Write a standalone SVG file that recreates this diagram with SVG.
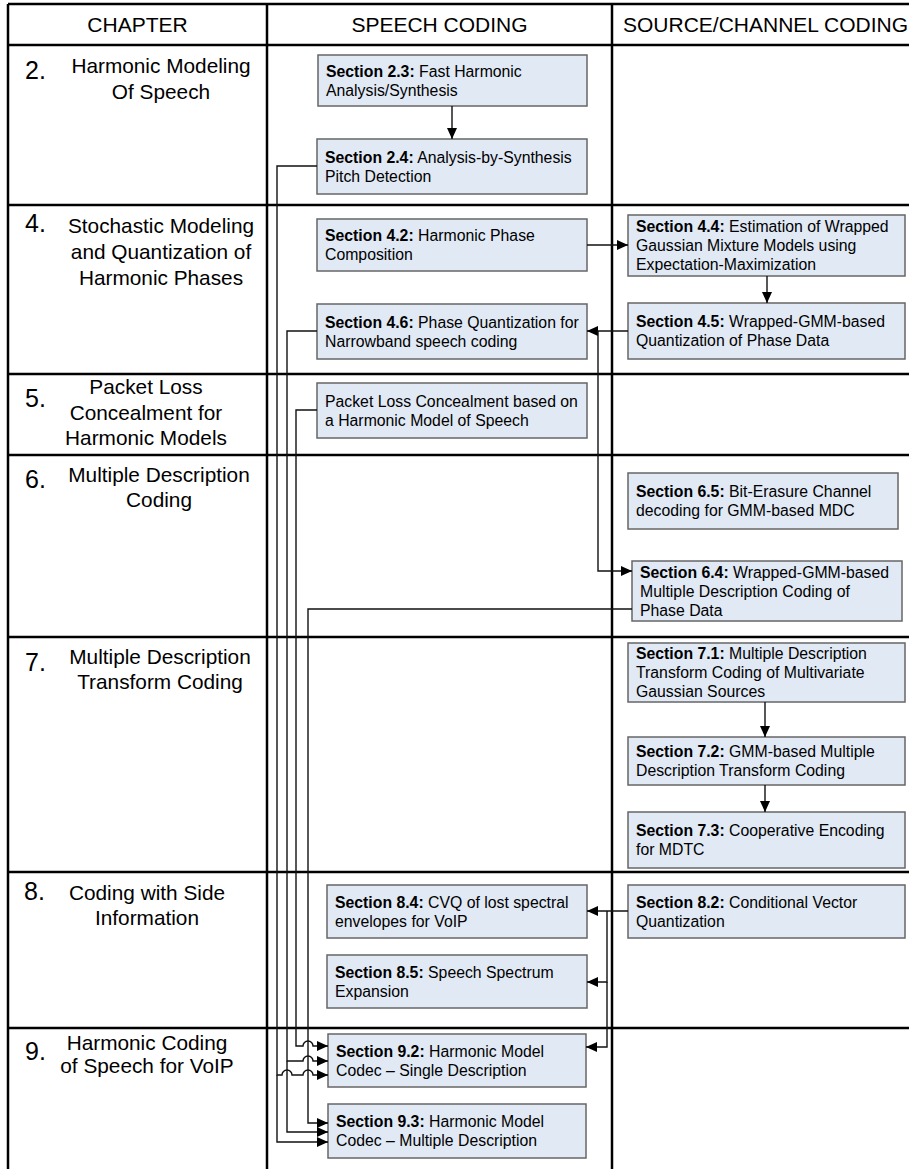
<svg xmlns="http://www.w3.org/2000/svg" width="909" height="1169" viewBox="0 0 909 1169">
  <style>
    .grid { stroke: #000; stroke-width: 2.5; fill: none; }
    .hdr { font-family: "Liberation Sans", Arial, sans-serif; font-size: 21px; fill: #000; }
    .chap { font-family: "Liberation Sans", Arial, sans-serif; font-size: 20.8px; fill: #000; text-anchor: middle; }
    .num { font-family: "Liberation Sans", Arial, sans-serif; font-size: 25px; fill: #000; }
    .box rect { fill: #e1e9f5; stroke: #666; stroke-width: 1.5; }
    .box text { font-family: "Liberation Sans", Arial, sans-serif; font-size: 15.8px; fill: #000; }
    .b { font-weight: bold; }
    .conn path { fill: none; stroke: #111; stroke-width: 1.4; }
    .arr { marker-end: url(#ah); }
  </style>
  <defs>
    <marker id="ah" markerUnits="userSpaceOnUse" markerWidth="12" markerHeight="10" refX="11" refY="5" orient="auto">
      <path d="M0,0 L11,5 L0,10 z" fill="#000"/>
    </marker>
  </defs>

  <rect width="909" height="1169" fill="#fff"/>

  <!-- table grid -->
  <g id="table">
    <path class="grid" d="M8,4 H909 M8,45 H909 M8,205 H909 M8,374 H909 M8,455 H909 M8,637 H909 M8,872 H909 M8,1028 H909"/>
    <path class="grid" d="M8,4 V1169 M267,4 V1169 M612,4 V1169"/>
    <text class="hdr" x="137.5" y="32" text-anchor="middle">CHAPTER</text>
    <text class="hdr" x="439.5" y="32" text-anchor="middle">SPEECH CODING</text>
    <text class="hdr" x="623" y="32">SOURCE/CHANNEL CODING</text>
  </g>

  <!-- chapter titles -->
  <g id="ch2">
    <text class="num" x="25" y="79">2.</text>
    <text class="chap" x="161" y="73">Harmonic Modeling</text>
    <text class="chap" x="161" y="99">Of Speech</text>
  </g>
  <g id="ch4">
    <text class="num" x="25" y="232">4.</text>
    <text class="chap" x="161" y="233">Stochastic Modeling</text>
    <text class="chap" x="161" y="259">and Quantization of</text>
    <text class="chap" x="161" y="285">Harmonic Phases</text>
  </g>
  <g id="ch5">
    <text class="num" x="25" y="407">5.</text>
    <text class="chap" x="146" y="394">Packet Loss</text>
    <text class="chap" x="146" y="420">Concealment for</text>
    <text class="chap" x="146" y="445">Harmonic Models</text>
  </g>
  <g id="ch6">
    <text class="num" x="25" y="488">6.</text>
    <text class="chap" x="159" y="482">Multiple Description</text>
    <text class="chap" x="159" y="507">Coding</text>
  </g>
  <g id="ch7">
    <text class="num" x="25" y="671">7.</text>
    <text class="chap" x="160" y="664">Multiple Description</text>
    <text class="chap" x="160" y="689">Transform Coding</text>
  </g>
  <g id="ch8">
    <text class="num" x="24" y="900">8.</text>
    <text class="chap" x="147" y="900">Coding with Side</text>
    <text class="chap" x="147" y="925">Information</text>
  </g>
  <g id="ch9">
    <text class="num" x="25" y="1060">9.</text>
    <text class="chap" x="147" y="1050">Harmonic Coding</text>
    <text class="chap" x="147" y="1073">of Speech for VoIP</text>
  </g>

  <!-- section boxes: speech coding -->
  <g id="s2_3" class="box">
    <rect x="318" y="55" width="269" height="51"/>
    <text x="326" y="76.7"><tspan class="b">Section 2.3:</tspan> Fast Harmonic</text>
    <text x="326" y="95.7">Analysis/Synthesis</text>
  </g>
  <g id="s2_4" class="box">
    <rect x="317" y="139" width="270" height="55"/>
    <text x="325" y="162.7"><tspan class="b">Section 2.4:</tspan> Analysis-by-Synthesis</text>
    <text x="325" y="181.7">Pitch Detection</text>
  </g>
  <g id="s4_2" class="box">
    <rect x="317" y="219" width="270" height="52"/>
    <text x="325" y="241.2"><tspan class="b">Section 4.2:</tspan> Harmonic Phase</text>
    <text x="325" y="260.2">Composition</text>
  </g>
  <g id="s4_6" class="box">
    <rect x="317" y="304" width="270" height="55"/>
    <text x="325" y="327.7"><tspan class="b">Section 4.6:</tspan> Phase Quantization for</text>
    <text x="325" y="346.7">Narrowband speech coding</text>
  </g>
  <g id="plc" class="box">
    <rect x="317" y="383" width="270" height="55"/>
    <text x="325" y="406.7">Packet Loss Concealment based on</text>
    <text x="325" y="425.7">a Harmonic Model of Speech</text>
  </g>
  <g id="s8_4" class="box">
    <rect x="327" y="885" width="260" height="53"/>
    <text x="335" y="907.7"><tspan class="b">Section 8.4:</tspan> CVQ of lost spectral</text>
    <text x="335" y="926.7">envelopes for VoIP</text>
  </g>
  <g id="s8_5" class="box">
    <rect x="327" y="955" width="260" height="53"/>
    <text x="335" y="977.7"><tspan class="b">Section 8.5:</tspan> Speech Spectrum</text>
    <text x="335" y="996.7">Expansion</text>
  </g>
  <g id="s9_2" class="box">
    <rect x="328" y="1034" width="258" height="53"/>
    <text x="336" y="1056.7"><tspan class="b">Section 9.2:</tspan> Harmonic Model</text>
    <text x="336" y="1075.7">Codec – Single Description</text>
  </g>
  <g id="s9_3" class="box">
    <rect x="328" y="1104" width="258" height="54"/>
    <text x="336" y="1127.2"><tspan class="b">Section 9.3:</tspan> Harmonic Model</text>
    <text x="336" y="1146.2">Codec – Multiple Description</text>
  </g>

  <!-- section boxes: source/channel coding -->
  <g id="s4_4" class="box">
    <rect x="628" y="215" width="277" height="61"/>
    <text x="636" y="232.2"><tspan class="b">Section 4.4:</tspan> Estimation of Wrapped</text>
    <text x="636" y="251.2">Gaussian Mixture Models using</text>
    <text x="636" y="270.2">Expectation-Maximization</text>
  </g>
  <g id="s4_5" class="box">
    <rect x="628" y="303" width="277" height="56"/>
    <text x="636" y="327.2"><tspan class="b">Section 4.5:</tspan> Wrapped-GMM-based</text>
    <text x="636" y="346.2">Quantization of Phase Data</text>
  </g>
  <g id="s6_5" class="box">
    <rect x="628" y="473" width="270" height="56"/>
    <text x="636" y="497.2"><tspan class="b">Section 6.5:</tspan> Bit-Erasure Channel</text>
    <text x="636" y="516.2">decoding for GMM-based MDC</text>
  </g>
  <g id="s6_4" class="box">
    <rect x="632" y="561" width="270" height="60"/>
    <text x="640" y="577.7"><tspan class="b">Section 6.4:</tspan> Wrapped-GMM-based</text>
    <text x="640" y="596.7">Multiple Description Coding of</text>
    <text x="640" y="615.7">Phase Data</text>
  </g>
  <g id="s7_1" class="box">
    <rect x="628" y="643" width="277" height="59"/>
    <text x="636" y="659.2"><tspan class="b">Section 7.1:</tspan> Multiple Description</text>
    <text x="636" y="678.2">Transform Coding of Multivariate</text>
    <text x="636" y="697.2">Gaussian Sources</text>
  </g>
  <g id="s7_2" class="box">
    <rect x="628" y="737" width="277" height="48"/>
    <text x="636" y="757.2"><tspan class="b">Section 7.2:</tspan> GMM-based Multiple</text>
    <text x="636" y="776.2">Description Transform Coding</text>
  </g>
  <g id="s7_3" class="box">
    <rect x="628" y="812" width="277" height="56"/>
    <text x="636" y="836.2"><tspan class="b">Section 7.3:</tspan> Cooperative Encoding</text>
    <text x="636" y="855.2">for MDTC</text>
  </g>
  <g id="s8_2" class="box">
    <rect x="628" y="885" width="277" height="53"/>
    <text x="636" y="907.7"><tspan class="b">Section 8.2:</tspan> Conditional Vector</text>
    <text x="636" y="926.7">Quantization</text>
  </g>

  <!-- connectors -->
  <g id="connectors" class="conn">
    <path class="arr" d="M452,106 V139"/>
    <path class="arr" d="M587,245 H628"/>
    <path class="arr" d="M767,276 V303"/>
    <path class="arr" d="M628,331 H587"/>
    <path class="arr" d="M598,331 V571 H632"/>
    <path class="arr" d="M765,702 V737"/>
    <path class="arr" d="M765,785 V812"/>
    <path class="arr" d="M628,911 H587"/>
    <path class="arr" d="M607,911 V982 H587"/>
    <path class="arr" d="M607,982 V1047 H586"/>
    <!-- feeds from earlier chapters into 9.2 / 9.3, hopping over crossed lines -->
    <path class="arr" d="M317,166 H277 V1075 H282 a5,5 0 0 1 10,0 H303 a5,5 0 0 1 10,0 H328"/>
    <path class="arr" d="M277,1075 V1142 H328"/>
    <path class="arr" d="M317,331 H287 V1061 H303 a5,5 0 0 1 10,0 H328"/>
    <path class="arr" d="M287,1061 V1132 H328"/>
    <path class="arr" d="M317,410 H296 V1046 H303 a5,5 0 0 1 10,0 H328"/>
    <path class="arr" d="M632,609 H308 V1123 H328"/>
  </g>
</svg>
